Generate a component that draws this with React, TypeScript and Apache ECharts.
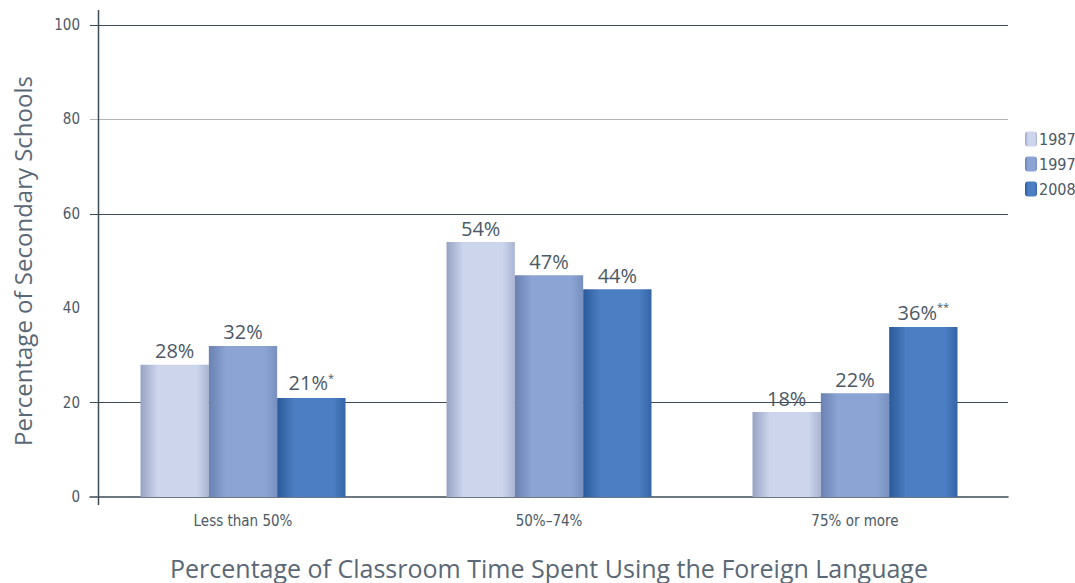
import React, { useEffect, useRef } from "react";
import * as echarts from "echarts";

const categories = ["Less than 50%", "50%\u201374%", "75% or more"];
const years = ["1987", "1997", "2008"];
const values1987 = [28, 54, 18];
const values1997 = [32, 47, 22];
const values2008 = [21, 44, 36];
const notes1987 = ["", "", ""];
const notes1997 = ["", "", ""];
const notes2008 = ["*", "", "**"];
const yTicks = [0, 20, 40, 60, 80, 100];

const palette = [
  { dark: "#97a3c4", light: "#cdd5ec", right: "#aab4d2" },
  { dark: "#6a81b2", light: "#8ba4d4", right: "#7890c0" },
  { dark: "#2a5a9a", light: "#4b7ec2", right: "#3565a8" },
];

const grad = (p: { dark: string; light: string; right: string }) =>
  new echarts.graphic.LinearGradient(0, 0, 1, 0, [
    { offset: 0, color: p.dark },
    { offset: 0.25, color: p.light },
    { offset: 0.82, color: p.light },
    { offset: 1, color: p.right },
  ]);

const TICK_FONT = "'DejaVu Sans Condensed', 'Liberation Sans Narrow', sans-serif";
const TITLE_FONT = "'Open Sans', 'DejaVu Sans', sans-serif";
const TEXT = "#4c5966";
const LINE = "#3d4b57";

export default function App() {
  const ref = useRef<HTMLDivElement>(null);
  useEffect(() => {
    document.body.style.margin = "0";
    const chart = echarts.init(ref.current!, null, { renderer: "svg" });
    const seriesData = [values1987, values1997, values2008];
    const notes = [notes1987, notes1997, notes2008];
    chart.setOption({
      animation: false,
      backgroundColor: "#ffffff",
      grid: { left: 90, right: 67, top: 25, bottom: 86, outerBoundsMode: "none", containLabel: false },
      legend: {
        orient: "vertical",
        left: 1020,
        top: 126,
        itemWidth: 12,
        itemHeight: 15,
        itemGap: 9,
        data: years,
        textStyle: { fontFamily: TICK_FONT, fontSize: 16, color: TEXT, padding: [0, 0, 0, -3] },
      },
      xAxis: {
        type: "category",
        data: categories,
        name: "Percentage of Classroom Time Spent Using the Foreign Language",
        nameLocation: "middle",
        nameGap: 58,
        nameTextStyle: { fontFamily: TITLE_FONT, fontSize: 25, color: "#5a6876" },
        axisLine: { lineStyle: { color: LINE, width: 1.5 } },
        axisTick: { show: false },
        axisLabel: { fontFamily: TICK_FONT, fontSize: 15, color: TEXT, margin: 16 },
      },
      yAxis: {
        type: "value",
        min: 0,
        max: 100,
        interval: 20,
        name: "Percentage of Secondary Schools",
        nameLocation: "middle",
        nameGap: 56,
        nameTextStyle: { fontFamily: TITLE_FONT, fontSize: 24, color: "#5a6876" },
        axisLine: { show: false },
        axisTick: { show: false },
        axisLabel: {
          fontFamily: TICK_FONT,
          fontSize: 15,
          color: TEXT,
          margin: 10,
          formatter: (v: number) => (yTicks.includes(v) ? String(v) : ""),
        },
        splitLine: {
          lineStyle: {
            color: ["transparent", LINE, "transparent", LINE, "#b0b4b8", LINE],
            width: 1.2,
          },
        },
      },
      graphic: [
        {
          type: "line",
          shape: { x1: 98.5, y1: 10, x2: 98.5, y2: 505 },
          style: { stroke: LINE, lineWidth: 1.5 },
          z: 10,
        },
      ],
      series: years.map((y, si) => ({
        name: y,
        type: "bar",
        data: seriesData[si],
        barGap: "0%",
        barCategoryGap: "33%",
        itemStyle: { color: grad(palette[si]) },
        label: {
          show: true,
          position: "top",
          distance: 4,
          formatter: (p: any) => {
            const n = notes[si][p.dataIndex];
            return n ? `{v|${p.value}%}{s|${n}}` : `{v|${p.value}%}`;
          },
          rich: {
            v: { fontFamily: TITLE_FONT, fontSize: 20, color: TEXT },
            s: { fontFamily: TITLE_FONT, fontSize: 11, color: TEXT, padding: [0, 0, 11, 0] },
          },
        },
      })),
    });
    return () => chart.dispose();
  }, []);
  return <div ref={ref} style={{ width: 1075, height: 583 }} />;
}
